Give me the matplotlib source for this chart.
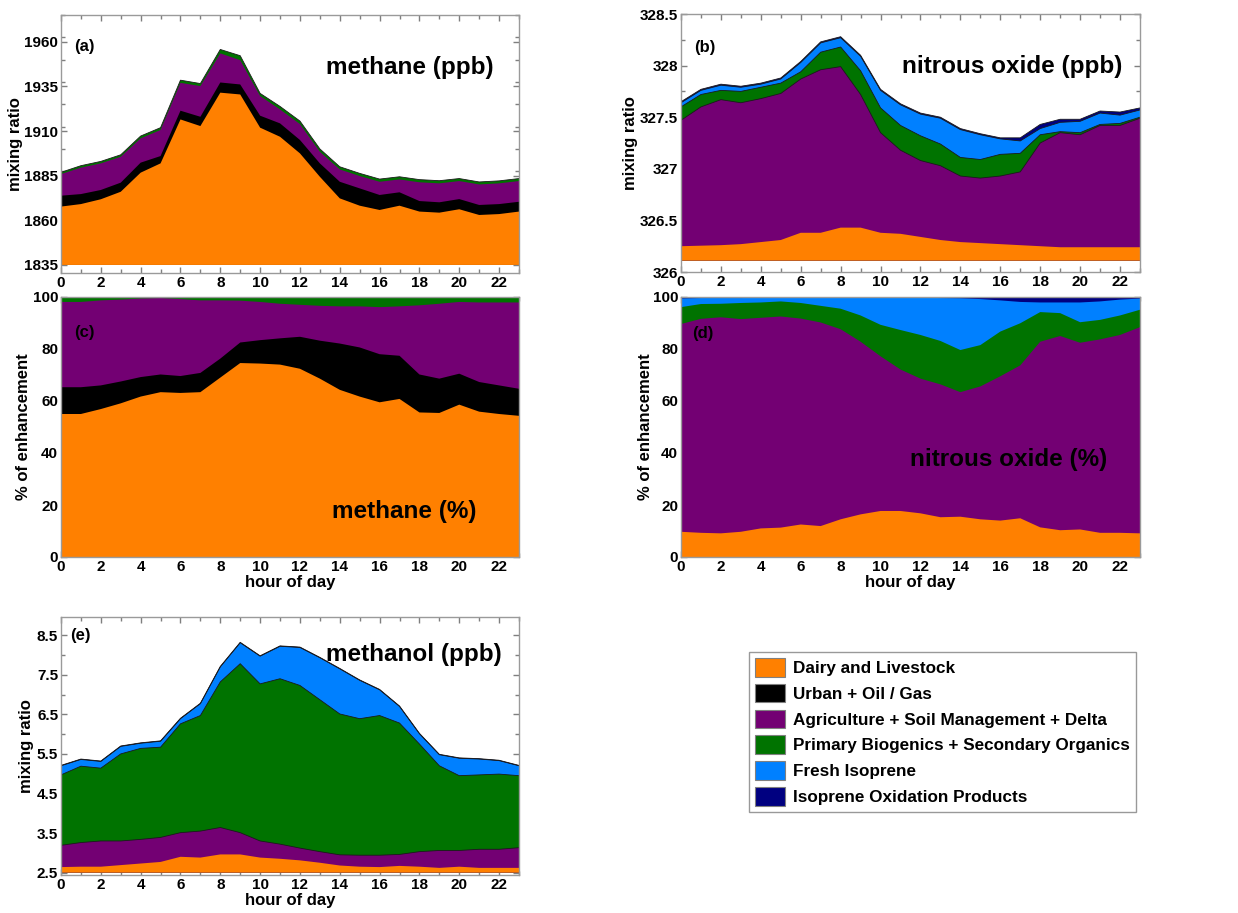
import numpy as np
import matplotlib
matplotlib.use('Agg')
import matplotlib.pyplot as plt
from matplotlib.patches import Patch
from matplotlib.ticker import MultipleLocator, FuncFormatter

plt.rcParams['font.family'] = ['Liberation Sans', 'DejaVu Sans']
plt.rcParams['font.weight'] = 'bold'

hours = np.arange(24)
xtick_labels = [str(h) for h in range(0, 24, 2)]

categories = ['Dairy and Livestock', 'Urban + Oil / Gas',
              'Agriculture + Soil Management + Delta',
              'Primary Biogenics + Secondary Organics',
              'Fresh Isoprene', 'Isoprene Oxidation Products']
colors = ['#FF8000', '#000000', '#730073', '#007300', '#0080FF', '#000080']

# ---- (a) methane, ppb : cumulative layer tops ----
ch4_base = 1835.0
ch4_dairy_top = [1867.7, 1869.1, 1871.8, 1876.0, 1886.7, 1891.9, 1916.5, 1912.8, 1931.5, 1930.5,
                 1911.9, 1906.8, 1897.5, 1884.4, 1872.3, 1868.2, 1865.8, 1868.2, 1864.9, 1864.3,
                 1866.2, 1863.0, 1863.5, 1864.9]
ch4_urban_top = [1873.8, 1874.7, 1877.0, 1881.1, 1892.3, 1896.0, 1921.4, 1918.0, 1937.2, 1936.1,
                 1918.6, 1914.3, 1905.0, 1891.9, 1881.6, 1877.9, 1874.2, 1875.7, 1870.8, 1870.1,
                 1871.9, 1868.6, 1869.1, 1870.4]
ch4_agri_top = [1885.9, 1889.5, 1891.9, 1895.6, 1905.9, 1910.6, 1937.0, 1935.2, 1953.5, 1949.7,
                1929.6, 1922.1, 1913.9, 1898.4, 1888.5, 1884.8, 1881.6, 1882.9, 1881.3, 1880.7,
                1882.0, 1880.1, 1880.7, 1882.0]
ch4_bio_top = [1886.9, 1890.6, 1893.0, 1896.7, 1907.2, 1911.9, 1938.5, 1936.6, 1955.7, 1952.2,
               1931.1, 1923.8, 1915.6, 1900.0, 1890.0, 1886.3, 1883.1, 1884.4, 1882.8, 1882.2,
               1883.4, 1881.5, 1882.1, 1883.4]

# ---- (b) nitrous oxide, ppb ----
n2o_base = 326.11
n2o_dairy_top = [326.25, 326.255, 326.26, 326.27, 326.29, 326.31, 326.38, 326.38, 326.43, 326.43,
                 326.38, 326.37, 326.34, 326.31, 326.29, 326.28, 326.27, 326.26, 326.25, 326.24,
                 326.24, 326.24, 326.24, 326.24]
n2o_agri_top = [327.47, 327.60, 327.67, 327.64, 327.68, 327.73, 327.87, 327.96, 327.99, 327.72,
                327.35, 327.18, 327.08, 327.03, 326.93, 326.91, 326.93, 326.97, 327.25, 327.35,
                327.33, 327.42, 327.42, 327.49]
n2o_bio_top = [327.60, 327.72, 327.76, 327.75, 327.79, 327.83, 327.94, 328.13, 328.18, 327.95,
               327.59, 327.42, 327.32, 327.24, 327.11, 327.09, 327.14, 327.15, 327.33, 327.36,
               327.35, 327.43, 327.44, 327.50]
n2o_fresh_top = [327.64, 327.76, 327.81, 327.79, 327.82, 327.87, 328.03, 328.22, 328.27, 328.09,
                 327.76, 327.62, 327.53, 327.49, 327.38, 327.33, 327.29, 327.27, 327.39, 327.45,
                 327.46, 327.54, 327.52, 327.57]
n2o_oxid_top = [327.65, 327.77, 327.82, 327.80, 327.83, 327.88, 328.04, 328.23, 328.28, 328.10,
                327.77, 327.63, 327.54, 327.50, 327.39, 327.34, 327.30, 327.30, 327.43, 327.48,
                327.48, 327.56, 327.55, 327.59]

# ---- (c) methane, % of enhancement ----
ch4pct_dairy_top = [55.0, 55.0, 56.9, 59.1, 61.7, 63.4, 63.1, 63.4, 69.0, 74.6, 74.4, 74.0,
                    72.4, 68.6, 64.3, 61.7, 59.5, 60.8, 55.6, 55.4, 58.6, 55.9, 55.0, 54.3]
ch4pct_urban_top = [65.3, 65.3, 66.0, 67.5, 69.2, 70.2, 69.6, 70.8, 76.3, 82.5, 83.4, 84.1,
                    84.7, 83.2, 82.1, 80.6, 78.0, 77.4, 70.2, 68.6, 70.5, 67.3, 66.0, 64.7]
ch4pct_agri_top = [98.1, 98.1, 98.7, 99.0, 99.4, 99.6, 99.2, 98.7, 98.7, 98.6, 98.1, 97.4,
                   97.0, 96.6, 96.4, 96.4, 96.1, 96.4, 96.8, 97.4, 98.1, 97.9, 97.9, 97.9]
ch4pct_bio_top = [100.0] * 24

# ---- (d) nitrous oxide, % of enhancement ----
n2opct_dairy_top = [9.7, 9.3, 9.1, 9.7, 11.0, 11.3, 12.5, 11.9, 14.5, 16.4, 17.7, 17.7,
                    16.8, 15.3, 15.5, 14.5, 14.0, 14.9, 11.4, 10.3, 10.6, 9.3, 9.3, 9.1]
n2opct_agri_top = [89.6, 91.6, 92.2, 91.5, 92.0, 92.5, 91.7, 90.2, 87.6, 82.8, 77.2, 72.1,
                   68.6, 66.4, 63.4, 65.6, 69.5, 73.7, 82.8, 85.0, 82.4, 83.7, 85.4, 88.4]
n2opct_bio_top = [96.1, 97.3, 97.4, 97.7, 97.9, 98.3, 97.7, 96.6, 95.5, 92.9, 89.3, 87.3,
                  85.4, 83.1, 79.6, 81.5, 86.7, 89.9, 94.2, 93.8, 90.3, 91.2, 92.9, 95.1]
n2opct_fresh_top = [99.4, 99.6, 99.6, 99.6, 99.7, 99.7, 99.7, 99.7, 99.7, 99.7, 99.7, 99.7,
                    99.7, 99.6, 99.5, 99.2, 98.7, 98.1, 97.9, 97.9, 97.9, 98.3, 99.0, 99.4]
n2opct_oxid_top = [100.0] * 24

# ---- (e) methanol, ppb ----
meoh_base = 2.5
meoh_dairy_top = [2.64, 2.65, 2.65, 2.69, 2.73, 2.77, 2.90, 2.88, 2.96, 2.96, 2.88, 2.85,
                  2.81, 2.75, 2.68, 2.65, 2.64, 2.67, 2.65, 2.62, 2.65, 2.62, 2.62, 2.62]
meoh_agri_top = [3.19, 3.26, 3.30, 3.30, 3.34, 3.39, 3.51, 3.55, 3.64, 3.51, 3.30, 3.22,
                 3.12, 3.03, 2.95, 2.94, 2.94, 2.96, 3.03, 3.06, 3.06, 3.09, 3.09, 3.13]
meoh_bio_top = [4.97, 5.19, 5.14, 5.50, 5.64, 5.67, 6.26, 6.47, 7.32, 7.78, 7.27, 7.40,
                7.23, 6.87, 6.51, 6.39, 6.47, 6.28, 5.75, 5.20, 4.95, 4.97, 4.99, 4.95]
meoh_fresh_top = [5.20, 5.36, 5.31, 5.69, 5.77, 5.82, 6.39, 6.77, 7.70, 8.31, 7.97, 8.22,
                  8.19, 7.93, 7.65, 7.36, 7.12, 6.70, 6.01, 5.48, 5.39, 5.37, 5.33, 5.20]
meoh_oxid_top = [5.21, 5.37, 5.32, 5.70, 5.78, 5.83, 6.40, 6.78, 7.71, 8.32, 7.98, 8.23,
                 8.20, 7.94, 7.66, 7.37, 7.13, 6.71, 6.02, 5.49, 5.40, 5.38, 5.34, 5.21]

W, H = 1238, 913
fig = plt.figure(figsize=(W / 100, H / 100), dpi=100)


def axes_px(left, top, right, bottom):
    return fig.add_axes([left / W, 1 - bottom / H, (right - left) / W, (bottom - top) / H])


def stacked(ax, base, tops, cidx, outline=False):
    # paint from the top layer down, each from the baseline, to avoid seams
    for top, ci in reversed(list(zip(tops, cidx))):
        ax.fill_between(hours, base, top, facecolor=colors[ci], linewidth=0, zorder=2)
    if outline:
        for top in tops[1:]:
            ax.plot(hours, top, color='#1a1a1a', lw=0.6, zorder=3)


def style(ax):
    ax.set_xlim(0, 23)
    ax.set_xticks(range(0, 24, 2))
    ax.set_xticklabels(xtick_labels)
    ax.xaxis.set_minor_locator(MultipleLocator(1))
    ax.tick_params(which='both', direction='in', top=True, right=True,
                   colors='#7f7f7f', labelcolor='black', labelsize=11, pad=2)
    ax.tick_params(which='major', length=4, width=1)
    ax.tick_params(which='minor', length=3, width=1)
    for s in ax.spines.values():
        s.set_color('#9a9a9a')
        s.set_linewidth(1)
        s.set_zorder(4)


title_kw = dict(fontsize=17.5, fontweight='bold', ha='right', va='center', zorder=5)
plab_kw = dict(fontsize=12, fontweight='bold', ha='left', va='center', zorder=5)

# (a)
axa = axes_px(61, 15, 519, 273)
stacked(axa, ch4_base, [ch4_dairy_top, ch4_urban_top, ch4_agri_top, ch4_bio_top], [0, 1, 2, 3])
axa.plot(hours, ch4_bio_top, color='#1a1a1a', lw=0.6, zorder=3)
style(axa)
axa.set_ylim(1830.5, 1975)
axa.set_yticks(np.arange(1835, 1961, 25))
axa.yaxis.set_minor_locator(MultipleLocator(12.5))
axa.set_ylabel('mixing ratio', fontsize=12, fontweight='bold')
axa.yaxis.set_label_coords(-0.082, 0.5)
axa.text(0.945, 0.798, 'methane (ppb)', transform=axa.transAxes, **title_kw)
axa.text(0.028, 0.876, '(a)', transform=axa.transAxes, **plab_kw)

# (b)
axb = axes_px(681, 14, 1140, 272)
stacked(axb, n2o_base, [n2o_dairy_top, n2o_agri_top, n2o_bio_top, n2o_fresh_top, n2o_oxid_top],
        [0, 2, 3, 4, 5], outline=True)
style(axb)
axb.set_ylim(326, 328.5)
axb.set_yticks(np.arange(326, 328.51, 0.5))
axb.yaxis.set_minor_locator(MultipleLocator(0.25))
axb.yaxis.set_major_formatter(FuncFormatter(lambda v, p: '%g' % v))
axb.set_ylabel('mixing ratio', fontsize=12, fontweight='bold')
axb.yaxis.set_label_coords(-0.094, 0.5)
axb.text(0.961, 0.795, 'nitrous oxide (ppb)', transform=axb.transAxes, **title_kw)
axb.text(0.028, 0.872, '(b)', transform=axb.transAxes, **plab_kw)

# (c)
axc = axes_px(61, 297, 519, 557)
stacked(axc, 0, [ch4pct_dairy_top, ch4pct_urban_top, ch4pct_agri_top, ch4pct_bio_top], [0, 1, 2, 3])
style(axc)
axc.set_ylim(0, 100)
axc.set_yticks(range(0, 101, 20))
axc.yaxis.set_minor_locator(MultipleLocator(10))
axc.set_ylabel('% of enhancement', fontsize=12, fontweight='bold')
axc.yaxis.set_label_coords(-0.066, 0.5)
axc.set_xlabel('hour of day', fontsize=12, fontweight='bold', labelpad=1)
axc.text(0.908, 0.174, 'methane (%)', transform=axc.transAxes, **title_kw)
axc.text(0.028, 0.862, '(c)', transform=axc.transAxes, **plab_kw)

# (d)
axd = axes_px(681, 297, 1140, 557)
stacked(axd, 0, [n2opct_dairy_top, n2opct_agri_top, n2opct_bio_top, n2opct_fresh_top, n2opct_oxid_top],
        [0, 2, 3, 4, 5])
style(axd)
axd.set_ylim(0, 100)
axd.set_yticks(range(0, 101, 20))
axd.yaxis.set_minor_locator(MultipleLocator(10))
axd.set_ylabel('% of enhancement', fontsize=12, fontweight='bold')
axd.yaxis.set_label_coords(-0.060, 0.5)
axd.set_xlabel('hour of day', fontsize=12, fontweight='bold', labelpad=1)
axd.text(0.928, 0.375, 'nitrous oxide (%)', transform=axd.transAxes, **title_kw)
axd.text(0.024, 0.858, '(d)', transform=axd.transAxes, **plab_kw)

# (e)
axe = axes_px(61, 617, 519, 875)
stacked(axe, meoh_base, [meoh_dairy_top, meoh_agri_top, meoh_bio_top, meoh_fresh_top, meoh_oxid_top],
        [0, 2, 3, 4, 5], outline=True)
style(axe)
axe.set_ylim(2.44, 8.96)
axe.set_yticks(np.arange(2.5, 8.51, 1.0))
axe.yaxis.set_minor_locator(MultipleLocator(0.5))
axe.yaxis.set_major_formatter(FuncFormatter(lambda v, p: '%.1f' % v))
axe.set_ylabel('mixing ratio', fontsize=12, fontweight='bold')
axe.yaxis.set_label_coords(-0.058, 0.5)
axe.set_xlabel('hour of day', fontsize=12, fontweight='bold', labelpad=1)
axe.text(0.963, 0.853, 'methanol (ppb)', transform=axe.transAxes, **title_kw)
axe.text(0.020, 0.93, '(e)', transform=axe.transAxes, **plab_kw)

# legend
handles = [Patch(facecolor=c, edgecolor='#808080', linewidth=0.8) for c in colors]
leg = fig.legend(handles, categories, loc='upper left',
                 bbox_to_anchor=(749 / W, 1 - 652 / H), bbox_transform=fig.transFigure,
                 prop={'size': 12.3, 'weight': 'bold'}, frameon=True, fancybox=False,
                 borderaxespad=0, borderpad=0.35, handlelength=1.75, handleheight=1.3,
                 handletextpad=0.5, labelspacing=0.42)
leg.get_frame().set_edgecolor('#808080')
leg.get_frame().set_linewidth(1.0)

fig.savefig('out.png', dpi=100)
